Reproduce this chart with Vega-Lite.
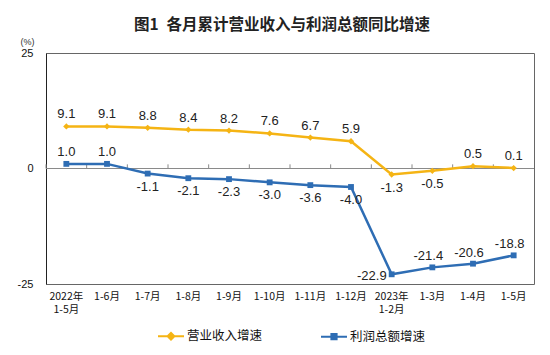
{
  "$schema": "https://vega.github.io/schema/vega-lite/v6.json",
  "width": 488,
  "height": 231,
  "autosize": {"type": "none"},
  "padding": {"left": 46, "top": 53, "right": 16, "bottom": 71},
  "background": "white",
  "title": {
    "text": "图1\u2002各月累计营业收入与利润总额同比增速",
    "font": "Noto Sans CJK SC",
    "fontSize": 15.5,
    "fontWeight": "bold",
    "color": "#222",
    "anchor": "middle",
    "baseline": "bottom",
    "dx": -8,
    "dy": 15,
    "offset": 4
  },
  "config": {
    "locale": {"number": {"decimal": ".", "thousands": ",", "grouping": [3], "currency": ["$", ""], "minus": "-"}},
    "view": {"stroke": "#666", "strokeWidth": 1},
    "axis": {"grid": false, "ticks": false, "domain": false, "labelColor": "#111"}
  },
  "data": {
    "values": [
      {"month": "2022年|1-5月", "series": "营业收入增速", "value": 9.1},
      {"month": "1-6月", "series": "营业收入增速", "value": 9.1},
      {"month": "1-7月", "series": "营业收入增速", "value": 8.8},
      {"month": "1-8月", "series": "营业收入增速", "value": 8.4},
      {"month": "1-9月", "series": "营业收入增速", "value": 8.2},
      {"month": "1-10月", "series": "营业收入增速", "value": 7.6},
      {"month": "1-11月", "series": "营业收入增速", "value": 6.7},
      {"month": "1-12月", "series": "营业收入增速", "value": 5.9},
      {"month": "2023年|1-2月", "series": "营业收入增速", "value": -1.3},
      {"month": "1-3月", "series": "营业收入增速", "value": -0.5},
      {"month": "1-4月", "series": "营业收入增速", "value": 0.5},
      {"month": "1-5月", "series": "营业收入增速", "value": 0.1},
      {"month": "2022年|1-5月", "series": "利润总额增速", "value": 1.0},
      {"month": "1-6月", "series": "利润总额增速", "value": 1.0},
      {"month": "1-7月", "series": "利润总额增速", "value": -1.1},
      {"month": "1-8月", "series": "利润总额增速", "value": -2.1},
      {"month": "1-9月", "series": "利润总额增速", "value": -2.3},
      {"month": "1-10月", "series": "利润总额增速", "value": -3.0},
      {"month": "1-11月", "series": "利润总额增速", "value": -3.6},
      {"month": "1-12月", "series": "利润总额增速", "value": -4.0},
      {"month": "2023年|1-2月", "series": "利润总额增速", "value": -22.9},
      {"month": "1-3月", "series": "利润总额增速", "value": -21.4},
      {"month": "1-4月", "series": "利润总额增速", "value": -20.6},
      {"month": "1-5月", "series": "利润总额增速", "value": -18.8}
    ]
  },
  "layer": [
    {
      "mark": {"type": "rule", "color": "#8a8a8a", "strokeWidth": 1},
      "encoding": {
        "y": {"datum": 0, "type": "quantitative", "scale": {"domain": [-25, 25], "nice": false}, "title": "(%)",
          "axis": {"values": [-25, 0, 25], "labelPadding": 13, "labelFont": "Liberation Sans", "labelFontSize": 11, "domain": true, "domainColor": "#222", "titleAngle": 0, "titleX": -19, "titleY": -12, "titleAlign": "center", "titleBaseline": "middle", "titleFontSize": 9, "titleFontWeight": "normal", "titleFont": "Liberation Sans", "titleColor": "#333"}}
      }
    },
    {
      "transform": [{"filter": "datum.series == '营业收入增速'"}],
      "mark": {"type": "rule", "color": "#8a8a8a", "strokeWidth": 1},
      "encoding": {
        "x": {"field": "month", "type": "nominal", "sort": null, "bandPosition": 0, "scale": {"type": "band", "paddingInner": 0, "paddingOuter": 0}, "title": null,
          "axis": {"labelExpr": "split(datum.label, '|')", "labelAngle": 0, "labelFont": "Noto Sans CJK SC", "labelFontSize": 10.5, "labelLineHeight": 13.5, "labelPadding": 7}},
        "y": {"datum": 0, "type": "quantitative", "scale": {"domain": [-25, 25], "nice": false}, "title": "(%)"},
        "y2": {"datum": 0.9}
      }
    },
    {
      "mark": {"type": "line", "strokeWidth": 2.5},
      "encoding": {
        "x": {"field": "month", "type": "nominal", "sort": null, "bandPosition": 0.5, "scale": {"type": "band", "paddingInner": 0, "paddingOuter": 0}, "title": null,
          "axis": {"labelExpr": "split(datum.label, '|')", "labelAngle": 0, "labelFont": "Noto Sans CJK SC", "labelFontSize": 10.5, "labelLineHeight": 13.5, "labelPadding": 7}},
        "y": {"field": "value", "type": "quantitative", "scale": {"domain": [-25, 25], "nice": false}, "title": "(%)"},
        "color": {"field": "series", "type": "nominal", "sort": null,
          "scale": {"domain": ["营业收入增速", "利润总额增速"], "range": ["#F5B414", "#2E6DB4"]},
          "legend": {
            "orient": "none", "legendX": 111, "legendY": 269, "direction": "horizontal", "title": null,
            "symbolType": "M-1,0L1,0", "symbolSize": 676, "symbolStrokeWidth": 2,
            "labelFont": "Noto Sans CJK SC", "labelFontSize": 12.5, "labelColor": "#111", "labelOffset": 2, "columnPadding": 54,
            "encode": {"symbols": {"update": {
              "shape": {"signal": "datum.value == '利润总额增速' ? 'M-1,0L1,0M-0.2,-0.2L0.2,-0.2L0.2,0.2L-0.2,0.2Z' : 'M-1,0L1,0M-0.26,0L0,-0.26L0.26,0L0,0.26Z'"},
              "fill": {"scale": "color", "field": "value"},
              "opacity": {"value": 1}
            }}}
          }}
      }
    },
    {
      "transform": [{"filter": "datum.series == '营业收入增速'"}],
      "mark": {"type": "point", "filled": true, "opacity": 1, "size": 40, "shape": "diamond", "color": "#F5B414"},
      "encoding": {
        "x": {"field": "month", "type": "nominal", "sort": null, "bandPosition": 0.5, "title": null},
        "y": {"field": "value", "type": "quantitative", "title": "(%)"}
      }
    },
    {
      "transform": [{"filter": "datum.series == '利润总额增速'"}],
      "mark": {"type": "point", "filled": true, "opacity": 1, "size": 34, "shape": "square", "color": "#2E6DB4"},
      "encoding": {
        "x": {"field": "month", "type": "nominal", "sort": null, "bandPosition": 0.5, "title": null},
        "y": {"field": "value", "type": "quantitative", "title": "(%)"}
      }
    },
    {
      "transform": [{"filter": "datum.value > 0"}],
      "mark": {"type": "text", "font": "Liberation Sans", "fontSize": 13, "color": "#222", "baseline": "middle", "dy": -12},
      "encoding": {
        "x": {"field": "month", "type": "nominal", "sort": null, "bandPosition": 0.5, "title": null},
        "y": {"field": "value", "type": "quantitative", "title": "(%)"},
        "text": {"field": "value", "type": "quantitative", "format": ".1f"}
      }
    },
    {
      "transform": [{"filter": "datum.value < 0 && datum.value > -10"}],
      "mark": {"type": "text", "font": "Liberation Sans", "fontSize": 13, "color": "#222", "baseline": "middle", "dy": 13},
      "encoding": {
        "x": {"field": "month", "type": "nominal", "sort": null, "bandPosition": 0.5, "title": null},
        "y": {"field": "value", "type": "quantitative", "title": "(%)"},
        "text": {"field": "value", "type": "quantitative", "format": ".1f"}
      }
    },
    {
      "transform": [{"filter": "datum.value < -10 && datum.value > -22"}],
      "mark": {"type": "text", "font": "Liberation Sans", "fontSize": 13, "color": "#222", "baseline": "middle", "dy": -11, "dx": -4},
      "encoding": {
        "x": {"field": "month", "type": "nominal", "sort": null, "bandPosition": 0.5, "title": null},
        "y": {"field": "value", "type": "quantitative", "title": "(%)"},
        "text": {"field": "value", "type": "quantitative", "format": ".1f"}
      }
    },
    {
      "transform": [{"filter": "datum.value < -22"}],
      "mark": {"type": "text", "font": "Liberation Sans", "fontSize": 13, "color": "#222", "baseline": "middle", "align": "right", "dy": 2, "dx": -5},
      "encoding": {
        "x": {"field": "month", "type": "nominal", "sort": null, "bandPosition": 0.5, "title": null},
        "y": {"field": "value", "type": "quantitative", "title": "(%)"},
        "text": {"field": "value", "type": "quantitative", "format": ".1f"}
      }
    }
  ]
}
